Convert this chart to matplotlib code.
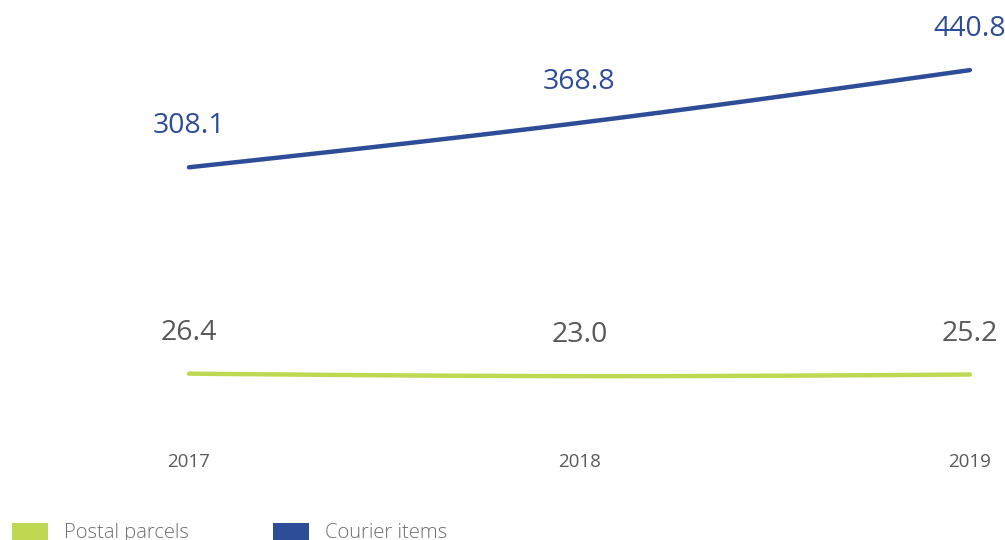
import numpy as np
import matplotlib.pyplot as plt
from matplotlib.patches import Rectangle

years = ['2017', '2018', '2019']
postal = [26.4, 23.0, 25.2]
courier = [308.1, 368.8, 440.8]

blue = '#2e4d98'
green = '#bed852'
grey = '#595959'

plt.rcParams['font.family'] = ['Open Sans', 'DejaVu Sans']


def spline(y, n=60):
    # natural cubic spline through equally spaced points
    y = np.asarray(y, dtype=float)
    k = len(y)
    A = np.zeros((k, k))
    b = np.zeros(k)
    A[0, 0] = A[-1, -1] = 1
    for i in range(1, k - 1):
        A[i, i - 1:i + 2] = [1, 4, 1]
        b[i] = 6 * (y[i - 1] - 2 * y[i] + y[i + 1])
    M = np.linalg.solve(A, b)
    xs, ys = [], []
    for i in range(k - 1):
        t = np.linspace(0, 1, n)
        s = (y[i] * (1 - t) + y[i + 1] * t
             + M[i] / 6 * ((1 - t) ** 3 - (1 - t))
             + M[i + 1] / 6 * (t ** 3 - t))
        xs.append(i + t)
        ys.append(s)
    return np.concatenate(xs), np.concatenate(ys)


fig = plt.figure(figsize=(10.05, 5.4), dpi=100)
ax = fig.add_axes([0, 0, 1, 1])
ax.set_xlim(-0.484, 2.09)
ax.set_ylim(-200.7, 536.5)
ax.axis('off')

x = np.arange(len(years))
for vals, col, tcol in [(courier, blue, blue), (postal, green, grey)]:
    sx, sy = spline(vals)
    ax.plot(sx, sy, color=col, lw=3.2, solid_capstyle='round')
    for xi, v in zip(x, vals):
        ax.annotate(f'{v:.1f}', (xi, v), xytext=(0, 41), textcoords='offset pixels',
                    ha='center', va='center', fontsize=20.5, color=tcol)

for xi, yr in zip(x, years):
    ax.annotate(yr, (xi, 0), xycoords=('data', 'figure pixels'), xytext=(0, 78),
                textcoords='offset pixels', ha='center', va='center',
                fontsize=13.5, color=grey)

# legend along the bottom edge
for px, label, col in [(12, 'Postal parcels', green), (273, 'Courier items', blue)]:
    fig.patches.append(Rectangle((px, 0), 36, 17, transform=None,
                                 facecolor=col, edgecolor='none'))
    fig.text(px + 52, -3, label, transform=None, fontsize=14.5, color='#6e6e6e',
             fontweight='light', va='bottom')

fig.savefig('out.png', dpi=100)
